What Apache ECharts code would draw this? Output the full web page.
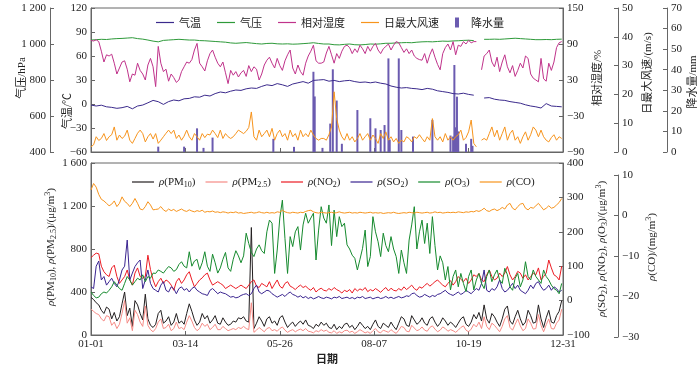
<!DOCTYPE html>
<html><head><meta charset="utf-8">
<script src="https://cdn.jsdelivr.net/npm/echarts@6.0.0/dist/echarts.min.js"></script>
<style>html,body{margin:0;padding:0;background:#fff}#c{width:700px;height:367px}</style>
</head><body><div id="c"></div>
<script>
// ---------------- data ----------------
const STEP_FINE = 2;   // days between samples (fine series)
const STEP_COARSE = 4; // days between samples (smooth series)
const xTickValues = [0, 73, 146, 219, 292, 365];
const xTickLabels = ['01-01', '03-14', '05-26', '08-07', '10-19', '12-31'];
const tempTicks = [-60, -30, 0, 30, 60, 90, 120];
const pressTicks = [400, 600, 800, 1000, 1200];
const humTicks = [-90, -30, 30, 90, 150];
const windTicks = [0, 10, 20, 30, 40, 50];
const rainTicks = [0, 10, 20, 30, 40, 50, 60, 70];
const pmTicks = [0, 400, 800, 1200, 1600];
const gasTicks = [-100, 0, 100, 200, 300, 400];
const coTicks = [-30, -20, -10, 0, 10];

const temperature = [
-1.3,-2.5,-1.5,-3.5,-4.2,-5.4,-4.6,-3.0,-6.0,-2.5,
-1.3,1.5,4.5,2.9,-0.5,3.0,5.0,4.0,6.5,7.0,
9.0,8.5,11.0,10.0,13.0,15.0,14.0,16.0,17.5,17.0,
19.0,20.0,19.5,22.0,24.0,23.0,25.5,24.0,22.0,25.0,
26.5,28.0,26.0,29.5,30.0,30.5,28.5,29.5,28.0,29.0,
29.5,28.0,27.0,27.5,26.5,27.5,26.0,25.0,22.5,21.0,
20.0,20.5,19.5,19.0,18.0,19.5,18.5,16.5,15.5,14.5,
13.0,12.5,13.5,12.0,11.0,null,7.5,8.0,6.0,5.0,
4.5,3.0,2.0,1.0,-1.0,-2.5,-3.5,-5.0,0.5,-2.5,
-3.0,-3.5];
const pressure = [
1022,1024,1026,1025,1028,1030,1031,1033,1035,1030,
1027,1022,1016,1012,1020,1022,1024,1026,1024,1022,
1022,1019,1018,1016,1014,1012,1010,1006,1004,1006,
1008,1005,1002,1000,1003,1004,1001,1000,1001,999,
1000,1002,1004,1007,1003,1000,1000,996,995,998,
1000,996,995,997,1000,999,1001,1004,1004,1006,
1007,1008,1007,1010,1012,1013,1012,1014,1016,1015,
1017,1018,1020,1021,1019,null,1026,1026,1027,1026,
1028,1030,1032,1030,1028,1026,1024,1024,1025,1024,
1026,1027];
const humidity = [
96,95,97,94,78,60,72,70,73,58,
40,50,60,62,48,27,40,38,58,46,
40,30,55,66,52,19,86,58,44,48,
28,40,34,26,30,44,52,60,58,64,
80,91,58,52,45,62,74,80,68,58,
52,60,42,24,46,38,44,35,42,46,
36,54,44,52,48,30,40,55,63,68,
58,50,66,54,46,62,72,80,50,40,
55,44,38,58,70,78,88,62,58,58,
60,75,86,72,58,74,66,78,86,88,
84,74,82,76,88,82,74,86,78,86,
91,80,74,82,86,90,80,88,94,92,
84,76,82,74,80,70,66,64,63,74,
58,72,82,68,56,47,74,84,90,80,
94,72,88,86,94,90,96,92,94,94,
null,47,70,74,80,60,52,68,44,60,
72,52,42,54,36,46,58,50,70,66,
40,33,30,27,66,32,28,58,46,60,
84,92,94];
const windMax = [
1.8,2.5,5.3,4.0,4.7,6.4,4.0,5.3,6.0,8.7,
4.1,5.9,4.7,5.5,7.6,4.1,3.0,4.7,6.5,7.6,
6.4,3.5,5.3,6.4,4.5,6.4,3.0,4.1,5.3,6.5,
7.6,6.4,7.6,4.7,5.9,4.1,5.5,7.6,5.3,4.1,
6.4,5.3,4.1,6.4,5.0,6.2,5.9,7.6,6.4,5.0,
7.6,4.7,6.4,5.3,4.7,5.3,6.4,7.6,7.0,6.4,
7.2,8.5,13.9,5.3,4.1,7.6,5.3,6.4,7.6,5.3,
8.2,4.1,6.4,7.6,5.3,6.4,4.1,7.6,5.3,6.4,
4.1,7.6,5.3,6.4,5.3,7.6,5.9,4.7,4.1,4.7,
4.7,4.1,6.0,8.7,20.9,11.6,7.6,5.3,4.1,6.4,
4.1,5.3,3.5,4.7,6.4,4.1,5.3,6.4,4.1,5.9,
4.7,3.0,6.4,4.7,7.0,4.1,5.3,3.5,4.7,3.0,
4.1,3.5,5.3,4.7,3.5,5.3,4.7,6.0,4.7,3.5,
5.3,4.1,11.6,5.3,4.1,5.3,3.5,6.4,4.1,5.3,
4.1,5.3,6.0,7.6,4.1,5.0,7.0,11.1,3.0,1.8,
null,4.1,4.7,4.1,6.4,8.7,5.3,7.6,4.1,6.4,
8.7,4.1,6.4,7.6,4.1,5.3,3.0,5.3,7.0,4.1,
6.0,8.7,7.6,5.3,7.6,5.3,4.1,3.5,5.0,6.0,
4.1,5.3,4.7];
const rainDays = [52,72,82,87,94,141,157,172,173,179,185,187,190,194,206,216,220,224,227,230,231,238,240,249,264,278,280,281,282,283,284,290,294,295];
const rainVals = [2.6,2.6,11.5,2,7,6.4,2.5,39,27,2,13.8,40.2,25,4,20.4,16.4,11.5,10.7,13.1,45.5,6,45.5,10.7,7.5,15.6,8,7.5,42.3,12,26.9,10,4,6.4,3];

const pm10 = [
350,330,300,280,230,200,260,240,150,210,
130,170,290,400,180,250,80,320,280,200,
140,380,150,90,70,100,200,230,110,130,
170,90,120,200,110,130,100,200,290,220,
140,90,120,200,150,180,110,140,180,110,
100,160,120,90,100,130,120,160,150,170,
130,120,1000,60,110,170,130,80,150,170,
110,130,90,160,180,120,70,100,120,80,
110,130,100,140,90,80,60,100,80,120,
90,110,70,60,100,50,80,60,100,110,
70,90,50,80,120,90,60,80,50,100,
140,80,60,110,90,70,120,80,50,110,
170,150,90,80,180,140,100,120,160,110,
90,150,170,120,80,110,160,130,90,120,
100,70,110,150,170,100,80,120,190,150,
210,130,280,150,110,200,170,120,80,150,
240,270,130,100,170,230,150,90,120,230,
180,110,120,280,150,70,160,230,120,110,
180,220,320];
const pm25 = [
240,220,200,190,150,130,180,170,90,120,
60,100,200,320,110,160,40,230,190,120,
80,270,90,50,30,60,120,150,60,70,
100,40,60,120,60,70,50,120,180,130,
70,40,60,110,80,100,50,70,100,50,
50,80,60,40,50,60,50,70,60,80,
60,50,300,25,45,70,50,30,60,70,
40,50,35,60,75,45,25,40,50,30,
45,55,40,60,35,30,20,40,30,50,
35,45,25,20,40,15,30,20,40,45,
25,35,15,30,50,35,20,30,15,40,
60,30,20,45,35,25,50,30,15,45,
80,70,35,30,90,65,40,50,75,45,
35,70,85,55,30,45,75,60,35,50,
40,25,45,70,85,45,30,55,100,75,
120,60,170,80,50,110,90,60,30,80,
150,180,70,45,100,150,85,40,60,150,
110,55,60,190,90,30,95,150,60,55,
110,140,240];
const no2 = [
125,132,138,136,100,84,75,70,95,103,
70,50,60,70,89,60,45,80,95,70,
65,70,132,90,60,40,55,65,50,60,
55,45,30,55,65,50,60,75,84,60,
40,50,60,66,75,80,60,45,50,55,
50,45,35,40,45,40,35,40,45,40,
35,45,55,60,42,38,50,45,40,55,
35,48,60,42,36,50,55,42,38,32,
40,45,38,42,35,30,38,25,32,36,
30,28,35,30,38,32,28,22,30,26,
32,22,35,28,34,30,38,26,32,28,
35,30,24,32,38,28,36,30,28,35,
30,40,32,38,45,35,30,40,36,44,
50,42,48,55,60,52,45,40,50,58,
45,55,70,62,55,65,50,60,75,70,
79,60,55,75,89,70,60,65,80,70,
80,99,75,60,70,85,80,65,75,60,
70,80,75,95,60,70,80,118,95,75,
70,60,100];
const so2 = [
40,35,100,115,60,70,45,55,65,50,
40,60,89,100,176,60,80,99,110,118,
35,60,89,50,35,30,25,45,55,30,
25,40,35,20,35,40,30,35,25,35,
40,30,25,20,18,15,30,35,28,20,
25,22,20,15,10,12,8,10,15,18,
20,15,20,35,45,25,20,25,30,28,
20,15,10,14,18,12,20,25,18,15,
10,14,8,12,6,10,5,8,12,8,
6,10,8,5,10,8,12,6,8,10,
6,9,5,10,8,12,6,8,10,5,
8,10,6,8,12,7,10,6,9,12,
8,10,14,12,20,22,15,10,12,18,
14,10,15,12,18,20,25,30,22,18,
15,20,25,18,22,30,25,20,28,35,
30,50,89,30,25,35,30,40,60,35,
25,30,40,50,35,45,30,25,20,30,
45,35,50,55,40,30,35,45,30,40,
35,25,30];
const o3 = [
25,15,8,10,20,25,22,30,40,55,
45,35,30,50,70,60,45,55,65,60,
75,55,70,65,80,79,89,85,80,90,
99,95,85,90,105,113,100,95,142,100,
115,120,90,110,142,100,85,135,110,80,
95,120,140,95,85,120,145,130,110,130,
196,166,140,128,150,162,145,137,200,234,
225,79,147,240,292,180,79,186,157,200,
215,147,220,254,225,240,254,118,205,273,
240,225,278,160,263,186,244,215,225,162,
150,132,123,89,120,152,205,99,128,244,
200,171,128,196,160,142,186,150,128,79,
147,110,79,176,220,273,150,200,234,166,
225,137,244,160,89,130,110,60,99,31,
70,89,40,79,50,26,70,89,31,60,
79,50,35,70,89,55,75,89,60,50,
94,75,40,30,65,79,40,60,113,70,
60,89,70,60,50,89,70,60,45,35,
30,20,50];
const co = [
6.3,7.9,7.0,5.2,4.0,3.6,3.0,2.4,2.8,3.6,
2.2,3.0,4.6,3.5,3.0,2.2,3.0,4.2,3.0,1.6,
1.4,2.2,3.4,2.6,1.4,1.5,1.6,2.2,1.4,1.0,
1.6,1.2,1.5,1.0,1.3,1.6,1.2,1.0,1.4,1.1,
0.9,1.2,1.0,1.3,0.8,1.0,0.9,1.1,0.8,0.9,
0.7,0.9,0.8,0.6,0.8,0.7,0.9,0.6,0.7,0.5,
0.6,0.7,0.8,0.6,0.7,0.9,0.7,0.6,0.8,0.6,
0.7,0.6,0.9,0.8,1.3,0.9,0.7,0.6,0.8,0.7,
0.6,0.8,0.7,1.0,1.2,1.3,0.9,0.7,0.6,0.8,
0.7,0.6,0.7,0.8,0.6,0.7,0.9,0.7,0.6,0.7,
0.8,0.6,0.7,0.6,0.8,0.7,0.6,0.7,0.8,0.6,
0.7,0.6,0.7,0.5,0.6,0.7,0.6,0.8,0.6,0.5,
0.6,0.7,0.6,0.8,0.7,0.6,0.8,0.7,0.6,0.7,
0.8,0.6,0.7,0.9,0.7,0.8,0.6,0.7,0.8,0.7,
0.8,0.7,0.9,0.8,0.7,0.9,0.8,1.0,0.9,1.2,
1.0,1.3,1.8,1.2,1.0,1.4,1.6,1.2,1.5,2.0,
1.6,2.6,3.0,1.8,1.4,2.2,2.8,3.0,1.8,1.4,
2.0,1.8,2.4,3.0,2.2,1.4,1.8,2.4,1.8,2.0,
2.6,3.2,4.2];

// ---------------- styling ----------------
const SERIF = '"Liberation Serif","Times New Roman","Noto Sans CJK SC",serif';
const CJK = '"Noto Sans CJK SC","Liberation Serif",sans-serif';
const AX = '#666';
const C = {
  temp: '#3b2a8c', press: '#2e9a3a', hum: '#c0338b', wind: '#f7941d', rain: '#6b5bb0',
  pm10: '#231f20', pm25: '#f58b86', no2: '#ec1c24', so2: '#3a2490', o3: '#168a2e', co: '#f7941d'
};

function fmtNum(v) {
  const a = Math.abs(v);
  const s = a >= 1000 ? Math.floor(a / 1000) + ' ' + String(a % 1000).padStart(3, '0') : String(a);
  return (v < 0 ? '\u2212' : '') + s;
}
const pairs = (arr, step) => arr.map((v, i) => [i * step, v]);

function xAx(gi, showLabel) {
  return {
    type: 'value', gridIndex: gi, min: 0, max: 365,
    axisLine: { show: true, onZero: false, lineStyle: { color: AX } },
    axisTick: { show: true, inside: true, length: 4, customValues: xTickValues, lineStyle: { color: AX } },
    axisLabel: { show: showLabel, margin: 4, customValues: xTickValues, color: '#222', fontFamily: SERIF, fontSize: 11,
      formatter: v => xTickLabels[xTickValues.indexOf(v)] },
    splitLine: { show: false }
  };
}
function yAx(gi, pos, offset, ticks) {
  return {
    type: 'value', gridIndex: gi, position: pos, offset: offset,
    min: ticks[0], max: ticks[ticks.length - 1],
    axisLine: { show: true, onZero: false, lineStyle: { color: AX } },
    axisTick: { show: true, inside: true, length: 4, customValues: ticks, lineStyle: { color: AX } },
    axisLabel: { margin: 4, customValues: ticks, color: '#222', fontFamily: SERIF, fontSize: 11, formatter: fmtNum },
    splitLine: { show: false }
  };
}
function lineS(name, arr, step, xi, yi, color, z) {
  return { name, type: 'line', xAxisIndex: xi, yAxisIndex: yi, data: pairs(arr, step), symbol: 'none',
    lineStyle: { width: 1, color }, itemStyle: { color }, z: z || 2, connectNulls: false };
}

const richBase = {
  i: { fontFamily: SERIF, fontSize: 11, fontStyle: 'italic', lineHeight: 14 },
  s: { fontFamily: SERIF, fontSize: 8, verticalAlign: 'bottom', lineHeight: 8 },
  p: { fontFamily: SERIF, fontSize: 8, verticalAlign: 'top', lineHeight: 8 }
};
const legendRich = {
  'PM10': '{i|ρ}(PM{s|10})', 'PM2.5': '{i|ρ}(PM{s|2.5})', 'NO2': '{i|ρ}(NO{s|2})',
  'SO2': '{i|ρ}(SO{s|2})', 'O3': '{i|ρ}(O{s|3})', 'CO': '{i|ρ}(CO)'
};
const LINE_ICON_TOP = 'path://M0,0H18V1.2H0Z';
const LINE_ICON_BOT = 'path://M0,0H22V1.2H0Z';

function vText(text, x, y, rich, font) {
  return { type: 'text', x: x, y: y, rotation: Math.PI / 2, silent: true,
    style: { text: text, fill: '#222', fontFamily: font || SERIF, fontSize: 11, lineHeight: 14,
      align: 'center', verticalAlign: 'middle', textAlign: 'center', textVerticalAlign: 'middle', rich: rich || richBase } };
}

const option = {
  animation: false,
  backgroundColor: '#fff',
  grid: [
    { left: 91, right: 137, top: 8, height: 144, show: true, borderColor: AX, borderWidth: 1 },
    { left: 91, right: 137, top: 163, height: 172, show: true, borderColor: AX, borderWidth: 1 },
    { left: 91, right: 137, top: 175, height: 162, show: false }
  ],
  xAxis: [xAx(0, false), xAx(1, true), { type: 'value', gridIndex: 2, min: 0, max: 365, show: false }],
  yAxis: [
    yAx(0, 'left', 0, tempTicks),
    yAx(0, 'left', 41, pressTicks),
    yAx(0, 'right', 0, humTicks),
    yAx(0, 'right', 55, windTicks),
    yAx(0, 'right', 104, rainTicks),
    yAx(1, 'left', 0, pmTicks),
    yAx(1, 'right', 0, gasTicks),
    yAx(2, 'right', 55, coTicks)
  ],
  legend: [
    { data: [
        { name: '气温', icon: LINE_ICON_TOP }, { name: '气压', icon: LINE_ICON_TOP },
        { name: '相对湿度', icon: LINE_ICON_TOP }, { name: '日最大风速', icon: LINE_ICON_TOP },
        { name: '降水量', icon: 'path://M0,0H4V10H0Z' }],
      left: 151, top: 12, itemWidth: 18, itemHeight: 10, itemGap: 16,
      textStyle: { fontFamily: CJK, fontSize: 11, color: '#222' } },
    { data: ['PM10', 'PM2.5', 'NO2', 'SO2', 'O3', 'CO'].map(n => ({ name: n, icon: LINE_ICON_BOT })),
      left: 127, top: 170, itemWidth: 22, itemHeight: 10, itemGap: 10,
      formatter: n => legendRich[n],
      textStyle: { fontFamily: SERIF, fontSize: 11, color: '#222', lineHeight: 14, rich: richBase } }
  ],
  graphic: [
    vText('气压/hPa', 22, 78, null, SERIF),
    vText('气温/℃', 68, 111, null, SERIF),
    vText('相对湿度/%', 598, 78, null, SERIF),
    vText('日最大风速/(m/s)', 648, 73, null, SERIF),
    vText('降水量/mm', 693, 82, null, SERIF),
    vText('{i|ρ}(PM{s|10}), {i|ρ}(PM{s|2.5})/(μg/m{p|3})', 51, 247),
    vText('{i|ρ}(SO{s|2}), {i|ρ}(NO{s|2}), {i|ρ}(O{s|3})/(μg/m{p|3})', 602, 249),
    vText('{i|ρ}(CO)/(mg/m{p|3})', 652, 247),
    { type: 'text', x: 327, y: 359, silent: true,
      style: { text: '日期', fill: '#222', fontFamily: CJK, fontSize: 11, fontWeight: 'bold',
        align: 'center', verticalAlign: 'middle', textAlign: 'center', textVerticalAlign: 'middle' } }
  ],
  series: [
    { name: '降水量', type: 'bar', xAxisIndex: 0, yAxisIndex: 4, barWidth: 2,
      data: rainDays.map((d, i) => [d, rainVals[i]]), itemStyle: { color: C.rain }, z: 1 },
    lineS('气温', temperature, STEP_COARSE, 0, 0, C.temp),
    lineS('气压', pressure, STEP_COARSE, 0, 1, C.press),
    lineS('相对湿度', humidity, STEP_FINE, 0, 2, C.hum),
    lineS('日最大风速', windMax, STEP_FINE, 0, 3, C.wind),
    lineS('PM10', pm10, STEP_FINE, 1, 5, C.pm10),
    lineS('PM2.5', pm25, STEP_FINE, 1, 5, C.pm25),
    lineS('NO2', no2, STEP_FINE, 1, 6, C.no2),
    lineS('SO2', so2, STEP_FINE, 1, 6, C.so2),
    lineS('O3', o3, STEP_FINE, 1, 6, C.o3),
    lineS('CO', co, STEP_FINE, 2, 7, C.co)
  ]
};
const chart = echarts.init(document.getElementById('c'), null, { renderer: 'canvas' });
chart.setOption(option);
</script></body></html>
